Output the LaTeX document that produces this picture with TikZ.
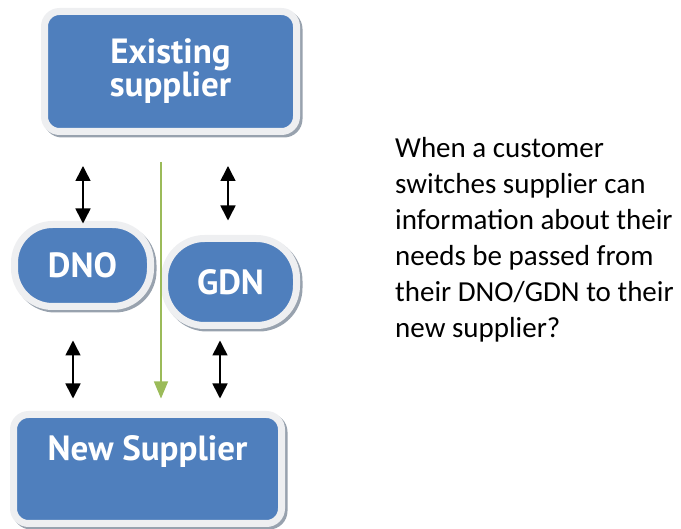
\documentclass[tikz,border=0pt]{standalone}
\usepackage{fontspec}
\newfontfamily\carl{Carlito}
\newfontfamily\boxf{PT Sans}
\usetikzlibrary{arrows.meta}
\definecolor{boxblue}{HTML}{4F7FBD}
\definecolor{framec}{HTML}{EEEFF1}
\definecolor{shadowc}{HTML}{98A2AE}
\definecolor{greenc}{HTML}{9BBB59}
\tikzset{
  box/.style={fill=boxblue, draw=framec, line width=7pt, text=white,
    inner sep=0pt, align=center,
    font={\boxf\bfseries\fontsize{35}{33}\selectfont},
    preaction={draw=shadowc, fill=shadowc, line width=7pt,
      transform canvas={shift={(2.5pt,-2.5pt)}}}},
  dbl/.style={{Triangle[width=15pt,length=15pt]}-{Triangle[width=15pt,length=15pt]}, line width=1.6pt, black},
  grn/.style={-{Triangle[width=14pt,length=17pt]}, line width=1.2pt, greenc},
  note/.style={align=left, inner sep=0pt, font={\carl\fontsize{29}{36}\selectfont}}
}
\begin{document}
\begin{tikzpicture}[x=1pt,y=-1pt]
\useasboundingbox (0,0) rectangle (681,529);
\node[box, rounded corners=15pt, minimum width=252pt, minimum height=120pt] (ex) at (170.5,71.5) {Existing\\supplier};
\node[box, rounded corners=38pt, minimum width=136pt, minimum height=82pt] (dno) at (82.5,265.5) {DNO};
\node[box, rounded corners=40pt, minimum width=132pt, minimum height=87pt] (gdn) at (230.5,282) {GDN};
\node[box, rounded corners=15pt, minimum width=268pt, minimum height=109pt] (ns) at (147.5,469) {New Supplier\\\strut};
\coordinate (x1) at (83,0);
\coordinate (x2) at (228,0);
\coordinate (x3) at (73,0);
\coordinate (x4) at (220,0);
\coordinate (xg) at (161,0);
\draw[dbl, shorten <=31pt, shorten >=-2.5pt] (ex.south -| x1) -- (dno.north -| x1);
\draw[dbl, shorten <=31pt, shorten >=14.5pt] (ex.south -| x2) -- (gdn.north -| x2);
\draw[dbl, shorten <=30.5pt, shorten >=12.5pt] (dno.south -| x3) -- (ns.north -| x3);
\draw[dbl, shorten <=11.5pt, shorten >=12.5pt] (gdn.south -| x4) -- (ns.north -| x4);
\draw[grn, shorten <=27pt, shorten >=12.5pt] (ex.south -| xg) -- (ns.north -| xg);
\node[note, anchor=base west] (q) at (395,338) {When a customer\\switches supplier can\\information about their\\needs be passed from\\their DNO/GDN to their\\new supplier?};
\end{tikzpicture}
\end{document}
